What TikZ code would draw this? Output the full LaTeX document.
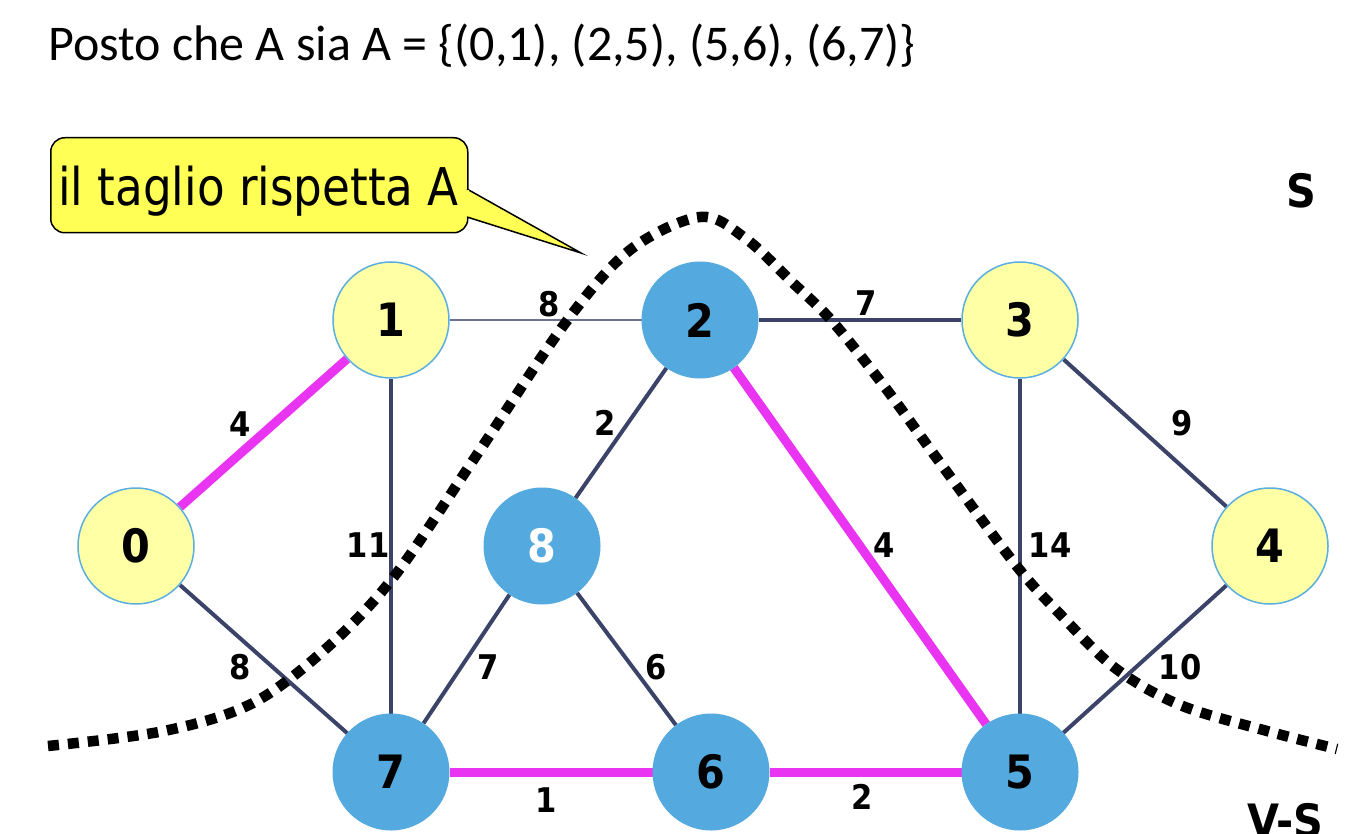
\documentclass[tikz,border=0pt]{standalone}
\usepackage{fontspec}
\setmainfont{DejaVu Sans}
\newfontfamily\titlefont{Carlito}
\newfontfamily\callfont[FakeStretch=0.87]{DejaVu Sans}
\newfontfamily\numfont[FakeStretch=0.9]{DejaVu Sans Bold}
\usetikzlibrary{backgrounds}
\definecolor{nyel}{HTML}{FFFFA6}
\definecolor{nbord}{HTML}{5BAEE0}
\definecolor{nblue}{HTML}{54AADF}
\definecolor{edgec}{HTML}{3B4369}
\definecolor{thinc}{HTML}{6B7192}
\definecolor{mag}{HTML}{E935F2}
\definecolor{callyel}{HTML}{FFFF55}
\tikzset{
  vtx/.style={circle, minimum size=116pt, inner sep=0pt, font=\numfont\fontsize{46}{46}\selectfont},
  yv/.style={vtx, fill=nyel, draw=nbord, line width=1.5pt},
  bv/.style={vtx, fill=nblue, draw=nblue, line width=1pt},
  edg/.style={draw=edgec, line width=4pt},
  thinedg/.style={draw=thinc, line width=2pt},
  sel/.style={draw=mag, line width=9pt},
  wlab/.style={font=\numfont\fontsize{34}{34}\selectfont, inner sep=0pt},
  setlab/.style={font=\numfont\fontsize{46}{46}\selectfont, inner sep=0pt, anchor=base},
  cutline/.style={line width=10.5pt, dash pattern=on 11pt off 9pt},
}
\begin{document}
\begin{tikzpicture}[x=1pt,y=-1pt]
\useasboundingbox (0,0) rectangle (1362,834);
% title
\node[anchor=base west, inner sep=0pt, font=\titlefont\fontsize{50}{50}\selectfont] (title) at (48,61)
  {Posto che A sia A = \{(0,1), (2,5), (5,6), (6,7)\}};
% callout
\node[draw=black, line width=1.5pt, fill=callyel, rounded corners=14pt, minimum width=417pt,
  minimum height=95pt, anchor=north west] (callout) at (50,137) {};
\filldraw[fill=callyel, draw=black, line width=1.5pt] (467,189) -- (581,253) -- (467,217);
\fill[callyel] (465.5,190.5) rectangle (469,215.5);
\node[anchor=base west, inner sep=0pt, font=\callfont\fontsize{52}{52}\selectfont] (calltext) at (58,206)
  {il taglio rispetta A};
% vertices
\node[yv] (n0) at (136,546) {0};
\node[yv] (n1) at (391,320) {1};
\node[bv] (n2) at (700,320) {2};
\node[yv] (n3) at (1020,320) {3};
\node[yv] (n4) at (1270,546) {4};
\node[bv, text=white] (n8) at (542,546) {8};
\node[bv] (n7) at (391,772) {7};
\node[bv] (n6) at (711,772) {6};
\node[bv] (n5) at (1020,772) {5};
% edges
\begin{pgfonlayer}{background}
\draw[thinedg] (n1) -- (n2);
\draw[edg] (n2) -- (n3);
\draw[sel] (n0) -- (n1);
\draw[edg] (n1) -- (n7);
\draw[edg] (n0) -- (n7);
\draw[edg] (n2) -- (n8);
\draw[sel] (n2) -- (n5);
\draw[edg] (n3) -- (n5);
\draw[edg] (n3) -- (n4);
\draw[edg] (n4) -- (n5);
\draw[edg] (n8) -- (n7);
\draw[edg] (n8) -- (n6);
\draw[sel] (n7) -- (n6);
\draw[sel] (n6) -- (n5);
\end{pgfonlayer}
% weights
\node[wlab] (w12) at (549,304) {8};
\node[wlab] (w23) at (866,303) {7};
\node[wlab] (w01) at (240,424) {4};
\node[wlab] (w28) at (605,423) {2};
\node[wlab] (w34) at (1182,423) {9};
\node[wlab] (w17) at (368,545) {11};
\node[wlab] (w25) at (884,545) {4};
\node[wlab] (w35) at (1050,545) {14};
\node[wlab] (w07) at (240,667) {8};
\node[wlab] (w87) at (488,667) {7};
\node[wlab] (w86) at (656,667) {6};
\node[wlab] (w45) at (1180,667) {10};
\node[wlab] (w76) at (546,800) {1};
\node[wlab] (w65) at (862,797) {2};
% cut
\draw[cutline] plot[smooth, tension=0.55] coordinates {(48,746) (164,731) (253,703) (330,645) (396,574) (476,456) (566,322) (630,250) (700,217) (745,238) (793,283) (832,321) (884,386) (941,464) (1015,564) (1058,612) (1115,668) (1180,705) (1267,731) (1337,749)};
% set labels
\node[setlab] (lS) at (1301,208) {S};
\node[setlab] (lVS) at (1285,837) {V-S};
\end{tikzpicture}
\end{document}
